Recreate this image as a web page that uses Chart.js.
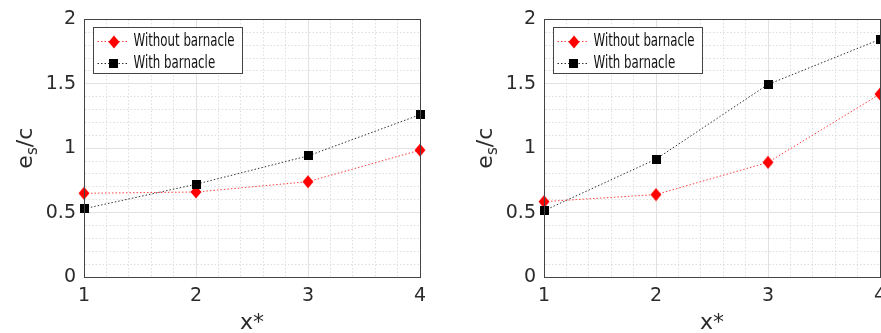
<!DOCTYPE html>
<html>
<head>
<meta charset="utf-8">
<script src="https://cdn.jsdelivr.net/npm/chart.js@4.4.1/dist/chart.umd.min.js"></script>
<style>
    html, body { margin: 0; padding: 0; background: #fff; }
    body { width: 881px; height: 333px; overflow: hidden; position: relative; }
    .panel { position: absolute; top: 0; }
    #panel-left { left: 0; }
    #panel-right { left: 440px; }
</style>
</head>
<body>
<div class="panel" id="panel-left"><canvas id="chart-left" width="440" height="333"></canvas></div>
<div class="panel" id="panel-right"><canvas id="chart-right" width="462" height="333"></canvas></div>

<script>
// data
const xPositions = [1, 2, 3, 4];
const xTickLabels = ['1', '2', '3', '4'];
const yTickLabels = ['0', '0.5', '1', '1.5', '2'];
const seriesNames = ['Without barnacle', 'With barnacle'];

const leftWithout = [0.65, 0.66, 0.74, 0.985];
const leftWith = [0.53, 0.72, 0.94, 1.26];
const rightWithout = [0.585, 0.64, 0.89, 1.42];
const rightWith = [0.515, 0.915, 1.495, 1.845];

const axisColor = '#444';
const tickColor = '#2b2b2b';
const majorGrid = '#e2e2e2';
const minorGrid = '#dedede';

function isMajor(v, step) {
    const q = v / step;
    return Math.abs(q - Math.round(q)) < 1e-6;
}

function toPoints(values) {
    return xPositions.map((x, i) => ({ x: x, y: values[i] }));
}

// matlab diamonds are a bit taller than wide
function makeMarker(kind, color) {
    const c = document.createElement('canvas');
    const g = c.getContext('2d');
    if (kind === 'diamond') {
        c.width = 12; c.height = 14;
        g.fillStyle = color;
        g.beginPath();
        g.moveTo(6, 0.5);
        g.lineTo(11.5, 7);
        g.lineTo(6, 13.5);
        g.lineTo(0.5, 7);
        g.closePath();
        g.fill();
    } else {
        c.width = 9; c.height = 9;
        g.fillStyle = color;
        g.fillRect(0, 0, 9, 9);
    }
    return c;
}

const diamondRed = makeMarker('diamond', '#ff0000');
const squareBlack = makeMarker('square', '#000000');

// box, axis titles and legend
const decorPlugin = {
    id: 'decor',
    afterDatasetsDraw(chart) {
        const { ctx, chartArea: a } = chart;
        ctx.save();

        ctx.strokeStyle = axisColor;
        ctx.lineWidth = 1;
        ctx.strokeRect(Math.round(a.left) + 0.5, Math.round(a.top) + 0.5,
            Math.round(a.right - a.left), Math.round(a.bottom - a.top));

        // x title
        ctx.fillStyle = tickColor;
        ctx.font = '22px "DejaVu Sans", sans-serif';
        ctx.textAlign = 'center';
        ctx.textBaseline = 'alphabetic';
        ctx.fillText('x*', (a.left + a.right) / 2, 329);

        // y title, e with subscript s
        ctx.translate(a.left - 52, (a.top + a.bottom) / 2);
        ctx.rotate(-Math.PI / 2);
        const big = '22px "DejaVu Sans", sans-serif';
        const small = '15px "DejaVu Sans", sans-serif';
        ctx.font = big;
        const wE = ctx.measureText('e').width;
        const wC = ctx.measureText('/c').width;
        ctx.font = small;
        const wS = ctx.measureText('s').width;
        let x = -(wE + wS + wC) / 2;
        ctx.textAlign = 'left';
        ctx.font = big;
        ctx.fillText('e', x, 0);
        x += wE;
        ctx.font = small;
        ctx.fillText('s', x, 5);
        x += wS;
        ctx.font = big;
        ctx.fillText('/c', x, 0);
        ctx.setTransform(1, 0, 0, 1, 0, 0);

        // legend
        const lx = Math.round(a.left) + 9.5;
        const ly = Math.round(a.top) + 8.5;
        ctx.fillStyle = '#fff';
        ctx.fillRect(lx, ly, 149, 46);
        ctx.strokeStyle = axisColor;
        ctx.strokeRect(lx, ly, 149, 46);
        const rows = [13, 35];
        ctx.font = '18px "DejaVu Sans Condensed", "DejaVu Sans", sans-serif';
        const squeeze = 101 / ctx.measureText(seriesNames[0]).width;
        chart.data.datasets.forEach((ds, i) => {
            const y = Math.round(ly + rows[i]) + 0.5;
            ctx.strokeStyle = ds.borderColor;
            ctx.lineWidth = 1;
            ctx.setLineDash([1.5, 2]);
            ctx.beginPath();
            ctx.moveTo(lx + 4, y);
            ctx.lineTo(lx + 35, y);
            ctx.stroke();
            ctx.setLineDash([]);
            const m = ds.pointStyle;
            ctx.drawImage(m, Math.round(lx + 20 - m.width / 2), Math.round(y - m.height / 2));
            ctx.save();
            ctx.fillStyle = '#111';
            ctx.textAlign = 'left';
            ctx.textBaseline = 'middle';
            ctx.translate(lx + 40, y);
            ctx.scale(squeeze, 1);
            ctx.fillText(seriesNames[i], 0, 0);
            ctx.restore();
        });
        ctx.restore();
    }
};

function buildChart(canvasId, withoutVals, withVals, yAxisWidth, padRight) {
    const ctx = document.getElementById(canvasId);
    return new Chart(ctx, {
        type: 'scatter',
        data: {
            datasets: [
                {
                    label: seriesNames[0],
                    data: toPoints(withoutVals),
                    showLine: true,
                    tension: 0,
                    borderColor: '#ff4040',
                    borderWidth: 1,
                    borderDash: [1.5, 2],
                    pointStyle: diamondRed,
                    clip: false,
                    order: 1
                },
                {
                    label: seriesNames[1],
                    data: toPoints(withVals),
                    showLine: true,
                    tension: 0,
                    borderColor: '#333333',
                    borderWidth: 1,
                    borderDash: [1.5, 2],
                    pointStyle: squareBlack,
                    clip: false,
                    order: 0
                }
            ]
        },
        options: {
            responsive: false,
            animation: false,
            layout: { padding: { top: 19, right: padRight, left: 0, bottom: 0 } },
            plugins: {
                legend: { display: false },
                tooltip: { enabled: false }
            },
            scales: {
                x: {
                    type: 'linear',
                    min: 1,
                    max: 4,
                    afterFit: s => { s.height = 56; },
                    afterBuildTicks: s => {
                        const t = [];
                        for (let k = 0; k <= 15; k++) t.push({ value: 1 + k * 0.2 });
                        s.ticks = t;
                    },
                    ticks: {
                        autoSkip: false,
                        maxRotation: 0,
                        padding: 8,
                        color: tickColor,
                        font: { family: 'DejaVu Sans', size: 19 },
                        callback: v => {
                            if (!isMajor(v, 1)) return '';
                            return xTickLabels[xPositions.indexOf(Math.round(v))];
                        }
                    },
                    grid: {
                        drawTicks: false,
                        color: c => c.tick && isMajor(c.tick.value, 1) ? majorGrid : minorGrid
                    },
                    border: {
                        color: axisColor,
                        dash: c => c.tick && isMajor(c.tick.value, 1) ? [] : [1.5, 2]
                    }
                },
                y: {
                    min: 0,
                    max: 2,
                    afterFit: s => { s.width = yAxisWidth; },
                    afterBuildTicks: s => {
                        const t = [];
                        for (let k = 0; k <= 20; k++) t.push({ value: k * 0.1 });
                        s.ticks = t;
                    },
                    ticks: {
                        autoSkip: false,
                        padding: 8,
                        color: tickColor,
                        font: { family: 'DejaVu Sans', size: 19 },
                        callback: v => isMajor(v, 0.5) ? yTickLabels[Math.round(v / 0.5)] : ''
                    },
                    grid: {
                        drawTicks: false,
                        color: c => c.tick && isMajor(c.tick.value, 0.5) ? majorGrid : minorGrid
                    },
                    border: {
                        color: axisColor,
                        dash: c => c.tick && isMajor(c.tick.value, 0.5) ? [] : [1.5, 2]
                    }
                }
            }
        },
        plugins: [decorPlugin]
    });
}

document.addEventListener('DOMContentLoaded', function() {
    buildChart('chart-left', leftWithout, leftWith, 84, 20);
    buildChart('chart-right', rightWithout, rightWith, 104, 22);
});
</script>
</body>
</html>
